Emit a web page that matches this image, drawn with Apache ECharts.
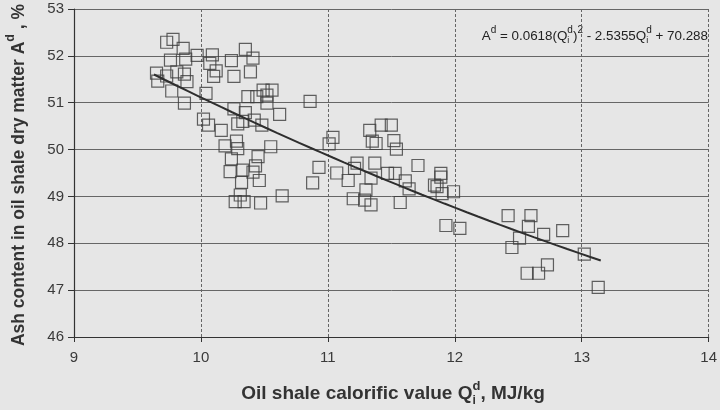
<!DOCTYPE html>
<html>
<head>
<meta charset="utf-8">
<script src="https://cdn.jsdelivr.net/npm/echarts@6/dist/echarts.min.js"></script>
<style>
html,body{margin:0;padding:0;background:#e6e6e6;}
#c{width:720px;height:410px;}
</style>
</head>
<body>
<div id="c"></div>
<script>
// Oil shale calorific value Q (MJ/kg)
var calorific = [
 9.73, 9.78, 9.86, 9.76, 9.88, 9.97, 10.09, 10.07, 10.24, 10.35,
 10.41, 10.39, 10.26, 10.12, 10.10, 9.87, 9.89, 9.81, 9.73, 9.65,
 9.66, 9.77, 9.87, 10.04, 10.02, 10.06, 10.16, 10.19, 10.28, 10.29,
 10.26, 10.35, 10.29, 10.33, 10.42, 10.48, 10.37, 10.44, 10.49, 10.56,
 10.52, 10.52, 10.62, 10.55, 10.86, 10.45, 10.24, 10.33, 10.41, 10.43,
 10.23, 10.32, 10.46, 10.27, 10.34, 10.47, 10.64, 10.31,
 11.04, 11.01, 10.93, 10.88, 11.07, 11.16, 11.23, 11.21, 11.37, 11.34,
 11.47, 11.53, 11.61, 11.33, 11.42, 11.50, 11.35, 11.38, 11.52, 11.54,
 11.30, 11.20, 11.29, 11.34, 11.57, 11.64, 11.71, 11.89, 11.89, 11.84,
 11.86, 11.90, 11.99, 11.93, 12.04,
 12.42, 12.60, 12.58, 12.51, 12.45, 12.70, 12.85, 13.02, 12.73, 12.57,
 12.66, 13.13
];
// Ash content in dry matter A (%)
var ash = [
 52.29, 52.35, 52.16, 51.91, 51.93, 52.01, 52.02, 51.84, 51.90, 52.14,
 51.95, 51.66, 51.56, 51.68, 51.56, 51.61, 51.45, 51.66, 51.57, 51.63,
 51.46, 51.25, 50.99, 51.20, 50.65, 50.52, 50.41, 50.08, 50.18, 50.02,
 50.87, 50.79, 50.55, 50.60, 50.63, 50.52, 51.13, 51.13, 51.27, 51.27,
 51.16, 50.99, 50.75, 50.06, 51.03, 49.85, 49.80, 49.56, 49.52, 49.65,
 49.53, 49.30, 49.34, 48.89, 48.89, 48.86, 49.01, 49.03,
 50.26, 50.12, 49.62, 49.29, 49.50, 49.34, 49.71, 49.60, 49.71, 49.39,
 49.49, 49.49, 49.33, 50.41, 50.52, 50.52, 50.18, 50.13, 50.19, 50.01,
 49.14, 48.95, 48.92, 48.82, 48.87, 49.16, 49.66, 49.49, 49.41, 49.24,
 49.21, 49.06, 49.10, 48.38, 48.32,
 48.59, 48.59, 48.36, 48.11, 47.91, 48.19, 48.27, 47.77, 47.54, 47.36,
 47.36, 47.06
];
// Trend line from the equation printed on the chart
var trendCoef = [0.0618, -2.5355, 70.288];
var trendRange = [9.63, 13.15];
var xTicks = [9, 10, 11, 12, 13, 14];
var yTicks = [46, 47, 48, 49, 50, 51, 52, 53];

var points = calorific.map(function (q, i) { return [q, ash[i]]; });
var trend = [];
var steps = 40;
for (var k = 0; k <= steps; k++) {
  var q = trendRange[0] + (trendRange[1] - trendRange[0]) * k / steps;
  trend.push([q, trendCoef[0] * q * q + trendCoef[1] * q + trendCoef[2]]);
}

var FONT = "'Liberation Sans',Arial,sans-serif";
var ctx = document.createElement('canvas').getContext('2d');
function measure(t, size, weight, family) {
  ctx.font = weight + ' ' + size + 'px ' + family;
  return ctx.measureText(t).width;
}
// segs: [text, size, dy, stackWithNext]
function buildText(segs, weight, family, color, align) {
  var items = [], cur = 0, stackStart = null, stackMax = 0;
  segs.forEach(function (s) {
    var w = measure(s[0], s[1], weight, family);
    items.push({ t: s[0], size: s[1], dy: s[2], x: (stackStart !== null ? stackStart : cur) });
    if (s[3]) {
      if (stackStart === null) stackStart = cur;
      stackMax = Math.max(stackMax, w);
    } else if (stackStart !== null) {
      cur = stackStart + Math.max(stackMax, w);
      stackStart = null; stackMax = 0;
    } else {
      cur += w;
    }
  });
  var total = cur;
  var off = align === 'center' ? -total / 2 : (align === 'right' ? -total : 0);
  return items.map(function (it) {
    return {
      type: 'text', x: it.x + off, y: it.dy,
      style: { text: it.t, fontSize: it.size, fontWeight: weight, fontFamily: family,
               fill: color, align: 'left', verticalAlign: 'middle' }
    };
  });
}

var yTitle = buildText([
  ['Ash content in oil shale dry matter A', 17.5, 0],
  ['d', 12.5, -8],
  [' , %', 17.5, 0]
], 'bold', FONT, '#333', 'center');
var xTitle = buildText([
  ['Oil shale calorific value Q', 19, 0],
  ['d', 13, -8, true],
  ['i', 12, 7],
  [', MJ/kg', 19, 0]
], 'bold', FONT, '#333', 'center');
var eqn = buildText([
  ['A', 13.4, 0], ['d', 10, -6], [' = 0.0618(Q', 13.4, 0],
  ['d', 10, -6, true], ['i', 9, 5], [')', 13.4, 0], ['2', 10, -6],
  [' - 2.5355Q', 13.4, 0], ['d', 10, -6, true], ['i', 9, 5],
  [' + 70.288', 13.4, 0]
], 'normal', FONT, '#222', 'right');

var chart = echarts.init(document.getElementById('c'));
chart.setOption({
  backgroundColor: '#e6e6e6',
  animation: false,
  grid: { left: 74, right: 11, top: 9, bottom: 73 },
  xAxis: {
    type: 'value', min: xTicks[0], max: xTicks[xTicks.length - 1], interval: 1,
    axisLine: { show: true, lineStyle: { color: '#333', width: 1.2 } },
    axisTick: { show: true, length: 5, lineStyle: { color: '#333' } },
    axisLabel: { color: '#3a3a3a', fontSize: 15, fontFamily: FONT, margin: 13 },
    splitLine: { show: true, lineStyle: { color: '#666', type: [3, 2], width: 1 } }
  },
  yAxis: {
    type: 'value', min: yTicks[0], max: yTicks[yTicks.length - 1], interval: 1,
    axisLine: { show: true, lineStyle: { color: '#333', width: 1.2 } },
    axisTick: { show: true, length: 6, lineStyle: { color: '#333' } },
    axisLabel: { color: '#3a3a3a', fontSize: 15, fontFamily: FONT, margin: 10 },
    splitLine: { show: true, lineStyle: { color: '#666', width: 1 } }
  },
  series: [
    {
      type: 'scatter', data: points, symbol: 'rect', symbolSize: 12,
      itemStyle: { color: 'rgba(0,0,0,0)', borderColor: '#3c3c3c', borderWidth: 1.2 },
      z: 3
    },
    {
      type: 'line', data: trend, showSymbol: false, smooth: false,
      lineStyle: { color: '#2e2e2e', width: 2 }, z: 4
    }
  ],
  graphic: [
    { type: 'group', x: 19, y: 175, rotation: Math.PI / 2, children: yTitle },
    { type: 'group', x: 393, y: 394, children: xTitle },
    { type: 'group', x: 708, y: 36, children: eqn }
  ]
});
</script>
</body>
</html>
